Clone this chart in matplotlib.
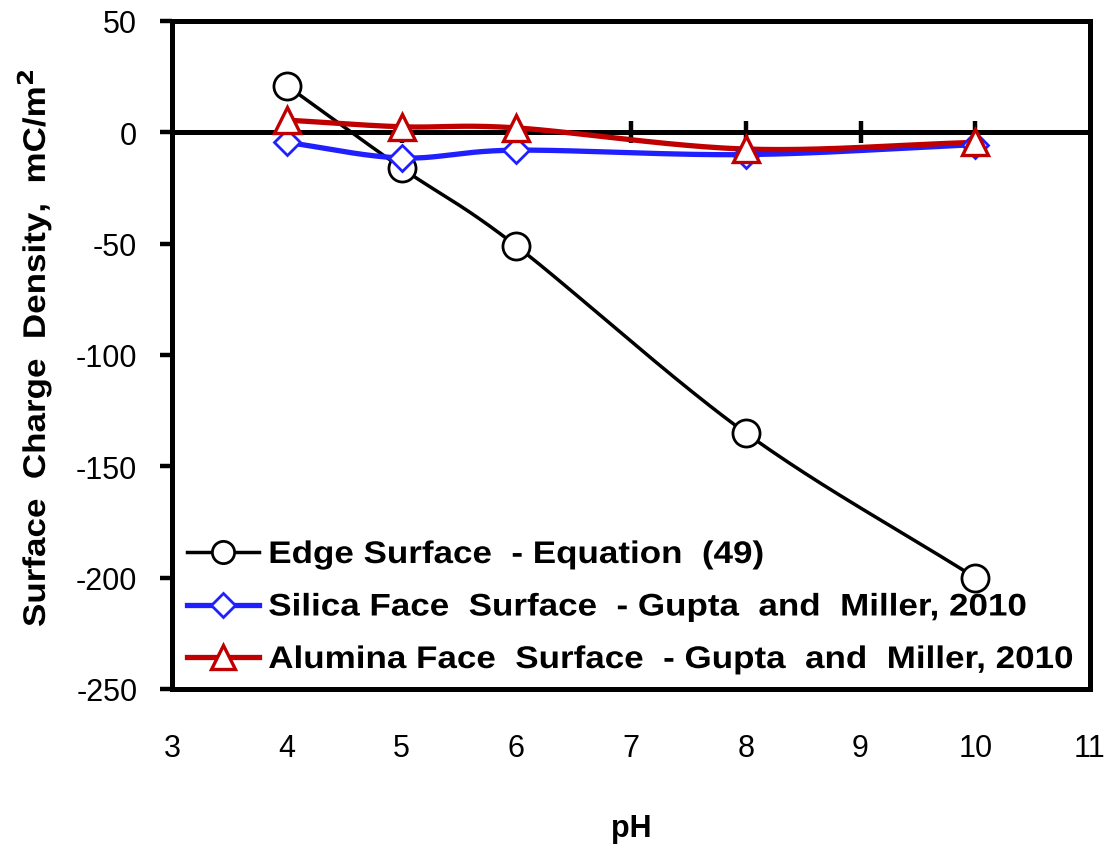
import numpy as np
import matplotlib
matplotlib.use("Agg")
import matplotlib.pyplot as plt
from matplotlib.lines import Line2D
from matplotlib.patheffects import AbstractPathEffect
from matplotlib.transforms import Affine2D

plt.rcParams['font.family'] = ['Liberation Sans', 'DejaVu Sans']

# Data
ph = [4, 5, 6, 8, 10]
edge = [21, -16, -51, -135, -200]
silica = [-4.5, -11.5, -8, -10, -5.5]
alumina = [5.5, 2.5, 2, -7.5, -4.5]

labels = ["Edge Surface  - Equation  (49)",
          "Silica Face  Surface  - Gupta  and  Miller, 2010",
          "Alumina Face  Surface  - Gupta  and  Miller, 2010"]

x_ticks = [3, 4, 5, 6, 7, 8, 9, 10, 11]
y_ticks = [50, 0, -50, -100, -150, -200, -250]


class Widen(AbstractPathEffect):
    """Stretch glyphs along the text direction."""

    def __init__(self, sx):
        super().__init__()
        self.sx = sx

    def draw_path(self, renderer, gc, tpath, affine, rgbFace=None):
        renderer.draw_path(gc, tpath, Affine2D().scale(self.sx, 1.0) + affine,
                           rgbFace)


def smooth(x, y, n=40):
    """Catmull-Rom curve through the points (smoothed line rendering)."""
    x = np.asarray(x, float)
    y = np.asarray(y, float)
    px = np.concatenate([[2 * x[0] - x[1]], x, [2 * x[-1] - x[-2]]])
    py = np.concatenate([[2 * y[0] - y[1]], y, [2 * y[-1] - y[-2]]])
    xs, ys = [], []
    for i in range(1, len(px) - 2):
        t = np.linspace(0, 1, n, endpoint=(i == len(px) - 3))
        t2, t3 = t * t, t * t * t
        for arr, out in ((px, xs), (py, ys)):
            p0, p1, p2, p3 = arr[i - 1], arr[i], arr[i + 1], arr[i + 2]
            out.extend(0.5 * (2 * p1 + (-p0 + p2) * t
                              + (2 * p0 - 5 * p1 + 4 * p2 - p3) * t2
                              + (-p0 + 3 * p1 - 3 * p2 + p3) * t3))
    return np.array(xs), np.array(ys)


W, H = 1114, 845
fig = plt.figure(figsize=(W / 100, H / 100), dpi=100)
ax = fig.add_axes([172 / W, 1 - 690 / H, (1090 - 172) / W, (690 - 22) / H])

black = '#000000'
blue = '#1F1FFF'
red = '#C00000'

# zero line with crossing tick marks
ax.axhline(0, color='black', lw=3.6, zorder=2)
ax.plot(x_ticks[1:-1], [0] * (len(x_ticks) - 2), ls='none', marker='|',
        ms=16, mew=3.2, color='black', zorder=2)

series = [
    (edge, black, 2.5, 'o', 19.5, 2.0, 16),
    (silica, blue, 3.8, 'D', 13, 2.0, 12),
    (alumina, red, 3.8, '^', 19, 2.4, 17),
]
handles = []
for (vals, col, lw, mk, ms, mew, lms), lab in zip(series, labels):
    sx, sy = smooth(ph, vals)
    ax.plot(sx, sy, color=col, lw=lw, zorder=3, solid_capstyle='round')
    ax.plot(ph, vals, ls='none', marker=mk, ms=ms, mfc='white', mec=col,
            mew=mew, zorder=4)
    handles.append(Line2D([], [], color=col, lw=lw, marker=mk, ms=lms,
                          mfc='white', mec=col, mew=mew))

ax.set_xlim(3, 11)
ax.set_ylim(-250, 50)
ax.set_xticks(x_ticks)
ax.set_xticklabels([str(v) for v in x_ticks])
ax.set_yticks(y_ticks)
ax.set_yticklabels([str(v) for v in y_ticks])
ax.tick_params(axis='x', length=0, pad=32, labelsize=22)
ax.tick_params(axis='y', direction='out', length=9, width=3.2, pad=16,
               labelsize=22)

for sp in ax.spines.values():
    sp.set_linewidth(3.6)

ax.set_xlabel('pH', fontsize=22, fontweight='bold', labelpad=36)

# y axis title, anchored at its start so the widened glyphs grow upward
fig.text(35 / W, 1 - 628 / H, 'Surface  Charge  Density,  mC/m$^\\mathbf{2}$',
         rotation=90, ha='center', va='bottom', fontsize=22.5,
         fontweight='bold', path_effects=[Widen(1.12)])

leg = ax.legend(handles, labels, loc='lower left',
                bbox_to_anchor=(15 / 918, 14 / 668),
                frameon=False, prop={'size': 22.5, 'weight': 'bold'},
                handlelength=2.3, handletextpad=0.3, labelspacing=0.72,
                borderpad=0.0, borderaxespad=0.0)
for txt in leg.get_texts():
    txt.set_path_effects([Widen(1.12)])

fig.savefig('out.png', dpi=100)
